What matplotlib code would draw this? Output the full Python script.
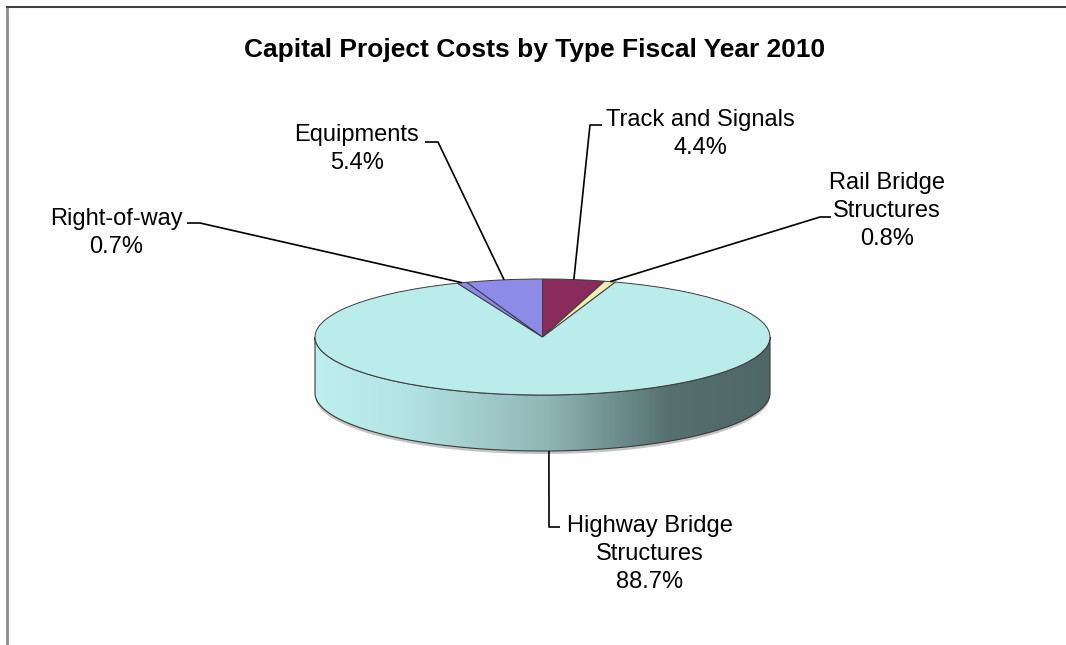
import numpy as np
import matplotlib
matplotlib.use("Agg")
import matplotlib.pyplot as plt
from matplotlib.colors import LinearSegmentedColormap
from matplotlib.patches import Polygon

# ---- data ----
categories = ["Track and Signals", "Rail Bridge\nStructures", "Highway Bridge\nStructures",
              "Right-of-way", "Equipments"]
values = [4.4, 0.8, 88.7, 0.7, 5.4]
colors = ["#8B2A5C", "#F3EDB0", "#BBECEC", "#8A8AE6", "#8C8CE8"]
title = "Capital Project Costs by Type Fiscal Year 2010"

W, H = 1066, 645
plt.rcParams['font.family'] = ['Liberation Sans', 'DejaVu Sans']
fig = plt.figure(figsize=(W / 100, H / 100), dpi=100)
fig.patch.set_facecolor("white")

# pixel-space axes
ax = fig.add_axes([0, 0, 1, 1])
ax.set_xlim(0, W)
ax.set_ylim(H, 0)
ax.axis("off")

# geometry of the 3D pie (pixels)
cx, cy, a, b, depth = 542.5, 337.0, 227.5, 58.0, 56.0

# side wall (front half) with horizontal gradient
t = np.linspace(np.pi, 2 * np.pi, 200)
xs = cx + a * np.cos(t)
ys_top = cy - b * np.sin(t)
ys_bot = ys_top + depth
side = np.vstack([np.column_stack([xs, ys_top]), np.column_stack([xs[::-1], ys_bot[::-1]])])

# soft shadow
shadow = Polygon(np.column_stack([xs, ys_bot + 3]).tolist() + np.column_stack([xs[::-1], ys_top[::-1] + 3]).tolist(),
                 closed=True, facecolor="#8a8a8a", edgecolor="none", alpha=0.5, zorder=1)
ax.add_patch(shadow)

side_poly = Polygon(side, closed=True, facecolor="none", edgecolor="#3a3a3a", lw=0.8, zorder=3)
ax.add_patch(side_poly)
cmap = LinearSegmentedColormap.from_list(
    "side", [(0.0, "#BEEEEE"), (0.18, "#B6E5E5"), (0.5, "#92B8B8"), (0.78, "#55706F"), (1.0, "#4F6767")])
grad = np.linspace(0, 1, 256)[None, :]
im = ax.imshow(grad, cmap=cmap, extent=(cx - a, cx + a, cy + b + depth, cy - b),
               aspect="auto", zorder=2, interpolation="bilinear")
im.set_clip_path(side_poly)
ax.set_xlim(0, W)
ax.set_ylim(H, 0)

# top face via pie in an elliptical axes
axp = fig.add_axes([(cx - a) / W, 1 - (cy + b) / H, 2 * a / W, 2 * b / H])
wedges, _ = axp.pie(values, colors=colors, startangle=90, counterclock=False, radius=1,
                    wedgeprops=dict(edgecolor="#3c3c3c", linewidth=0.7))
axp.set_aspect("auto")
axp.set_xlim(-1, 1)
axp.set_ylim(-1, 1)
axp.axis("off")
axp.set_zorder(5)
ax.set_zorder(1)

# leader end points computed from data angles
fracs = np.array(values) / sum(values)
ends = np.cumsum(fracs)
starts = ends - fracs
mid = np.deg2rad(90 - 360 * (starts + ends) / 2)
px = cx + a * np.cos(mid)
py = cy - b * np.sin(mid)
py = np.where(np.sin(mid) < 0, py + depth, py)

axo = fig.add_axes([0, 0, 1, 1])
axo.set_xlim(0, W)
axo.set_ylim(H, 0)
axo.axis("off")
axo.set_zorder(10)

fs = 17
lab_txt = [c + "\n" + f"{v:.1f}%" for c, v in zip(categories, values)]
# label centre positions and leader knee points (layout)
lab_pos = [(700, 134), (887, 211), (650, 554), (116, 233), (357, 149)]
knees = [((602, 125), (590, 125)), ((831, 217), (820, 217)), ((560, 527), (549, 527)),
         ((187, 223), (200, 223)), ((425, 142), (438, 142))]
for i in range(len(values)):
    axo.text(lab_pos[i][0], lab_pos[i][1], lab_txt[i], ha="center", va="center",
             fontsize=fs, linespacing=1.37, color="black")
    (x0, y0), (x1, y1) = knees[i]
    axo.plot([x0, x1, px[i]], [y0, y1, py[i]], color="black", lw=1.2, solid_capstyle="butt")

axo.text(535, 50, title, ha="center", va="center", fontsize=19, fontweight="bold")

# chart frame (top and left visible)
axo.plot([6.5, 6.5], [H, 7], color="#8c8c8c", lw=2)
axo.plot([6.5, W], [7, 7], color="#404040", lw=1.5)

fig.savefig("out.png", dpi=100, facecolor="white")
